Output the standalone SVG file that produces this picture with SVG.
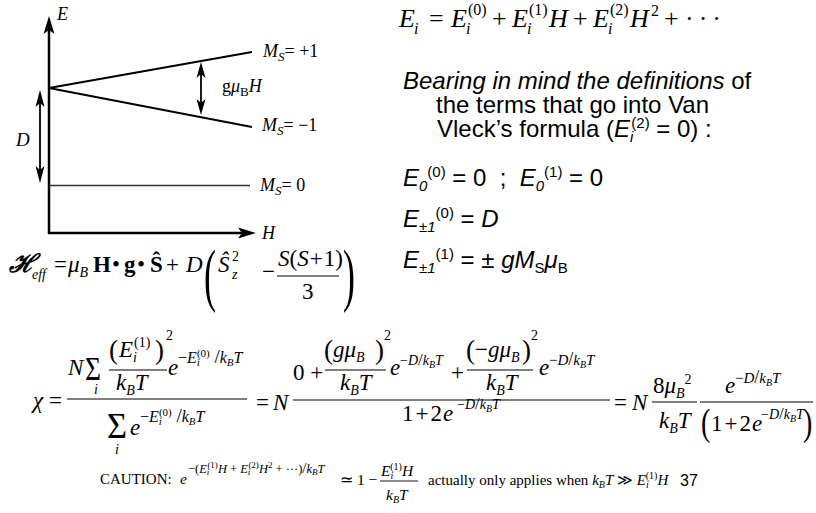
<svg xmlns="http://www.w3.org/2000/svg" width="816" height="513" viewBox="0 0 816 513">
<style>
 text { fill:#000; }
 .t { font-family: "Liberation Serif","Times New Roman",serif; }
 .a { font-family: "Liberation Sans",Arial,sans-serif; }
 .i { font-style: italic; }
 .n { font-style: normal; }
 .b { font-weight: bold; }
 .ax { stroke:#000; stroke-width:2.5; fill:none; }
 .ln { stroke:#000; stroke-width:1.8; fill:none; }
 .bar { stroke:#000; stroke-width:1.2; }
 .head { fill:#000; stroke:none; }
 .pre { white-space: pre; }
</style>
<rect width="816" height="513" fill="#fff"/>

<!-- Energy level diagram -->
<g id="diagram">
  <g id="axes">
    <line class="ax" x1="49" y1="234" x2="49" y2="28"/>
    <path class="head" d="M49,16 L54.5,34 L49,30 L43.5,34 Z"/>
    <line class="ax" x1="48" y1="233" x2="244" y2="233"/>
    <path class="head" d="M256,233 L238,227.5 L242,233 L238,238.5 Z"/>
    <text class="t i" x="57" y="20" font-size="18">E</text>
    <text class="t i" x="262" y="239" font-size="18">H</text>
  </g>
  <g id="levels">
    <line class="ln" x1="49" y1="88" x2="252" y2="52"/>
    <line class="ln" x1="49" y1="88" x2="252" y2="127"/>
    <line x1="49" y1="185.5" x2="250" y2="185.5" stroke="#333" stroke-width="1.4"/>
    <text class="t i" x="263" y="57" font-size="18">M<tspan font-size="13" dy="4">S</tspan><tspan class="n" dy="-4">= +1</tspan></text>
    <text class="t i" x="262" y="131" font-size="18">M<tspan font-size="13" dy="4">S</tspan><tspan class="n" dy="-4">= −1</tspan></text>
    <text class="t i" x="260" y="191" font-size="18">M<tspan font-size="13" dy="4">S</tspan><tspan class="n" dy="-4">= 0</tspan></text>
  </g>
  <g id="connectors">
    <line class="ln" x1="40" y1="100" x2="40" y2="173" stroke-width="2.2"/>
    <path class="head" d="M40,90 L44.5,107 L40,103 L35.5,107 Z"/>
    <path class="head" d="M40,183 L44.5,166 L40,170 L35.5,166 Z"/>
    <line class="ln" x1="201" y1="72" x2="201" y2="105" stroke-width="2.2"/>
    <path class="head" d="M201,62 L205.5,78 L201,74 L196.5,78 Z"/>
    <path class="head" d="M201,115 L205.5,99 L201,103 L196.5,99 Z"/>
    <text class="t i" x="16" y="146" font-size="19">D</text>
    <text class="t" x="222" y="92" font-size="18">g<tspan class="i">μ</tspan><tspan font-size="13" dy="4">B</tspan><tspan class="i" dy="-4">H</tspan></text>
  </g>
</g>

<!-- Right column: perturbation expansion -->
<g id="expansion" class="t" font-size="26">
  <text class="i" x="399" y="27">E</text><text class="i" x="414" y="34" font-size="16">i</text>
  <text x="429" y="27">=</text>
  <text class="i" x="451" y="27">E</text><text class="i" x="466" y="34" font-size="16">i</text><text x="468" y="15" font-size="16">(0)</text>
  <text x="492" y="27">+</text>
  <text class="i" x="512" y="27">E</text><text class="i" x="527" y="34" font-size="16">i</text><text x="529" y="15" font-size="16">(1)</text>
  <text class="i" x="549" y="27">H</text>
  <text x="573" y="27">+</text>
  <text class="i" x="593" y="27">E</text><text class="i" x="608" y="34" font-size="16">i</text><text x="610" y="15" font-size="16">(2)</text>
  <text class="i" x="630" y="27">H</text><text x="651" y="16" font-size="16">2</text>
  <text x="664" y="27">+</text>
  <text x="685" y="27" letter-spacing="5">···</text>
</g>
<g id="definitions" class="a" font-size="24">
  <text x="403" y="89"><tspan class="i">Bearing in mind the definitions</tspan> of</text>
  <text x="436" y="113">the terms that go into Van</text>
  <text x="437" y="137">Vleck’s formula (<tspan class="i">E</tspan><tspan class="i" font-size="15" dy="5">i</tspan><tspan font-size="15" dx="-2" dy="-14">(2)</tspan><tspan dy="9"> = 0) :</tspan></text>
  <text class="pre" x="403" y="186"><tspan class="i">E</tspan><tspan class="i" font-size="15" dy="5">0</tspan><tspan font-size="15" dy="-14">(0)</tspan><tspan dy="9"> = 0  ;  </tspan><tspan class="i">E</tspan><tspan class="i" font-size="15" dy="5">0</tspan><tspan font-size="15" dy="-14">(1)</tspan><tspan dy="9"> = 0</tspan></text>
  <text x="403" y="227"><tspan class="i">E</tspan><tspan class="i" font-size="15" dy="5">±1</tspan><tspan font-size="15" dy="-14">(0)</tspan><tspan dy="9"> = </tspan><tspan class="i">D</tspan></text>
  <text x="403" y="268"><tspan class="i">E</tspan><tspan class="i" font-size="15" dy="5">±1</tspan><tspan font-size="15" dy="-14">(1)</tspan><tspan dy="9"> = ± </tspan><tspan class="i">gM</tspan><tspan font-size="15" dy="5">S</tspan><tspan class="i" dy="-5">μ</tspan><tspan font-size="15" dy="5">B</tspan></text>
</g>

<!-- Hamiltonian -->
<g id="hamiltonian" class="t" font-size="23">
  <text x="9" y="272" font-size="25" font-family="DejaVu Serif, serif" font-weight="bold" font-style="italic">ℋ</text>
  <text class="i" x="32" y="279" font-size="14">eff</text>
  <text x="54" y="272">=</text>
  <text class="i" x="68" y="272">μ<tspan font-size="14" dy="5">B</tspan></text>
  <text class="b" x="93" y="272">H</text>
  <text x="112" y="272">•</text>
  <text class="b" x="124" y="272">g</text>
  <text x="137" y="272">•</text>
  <text class="b" x="150" y="272">Ŝ</text>
  <text x="166" y="272">+</text>
  <text class="i" x="186" y="272">D</text>
  <text transform="translate(204,298) scale(1,1.95)" font-size="36">(</text>
  <text class="i" x="218" y="272">Ŝ</text>
  <text class="i" x="232" y="279" font-size="14">z</text>
  <text x="232" y="261" font-size="14">2</text>
  <text x="262" y="279">−</text>
  <text class="i" x="278" y="266">S<tspan class="n">(</tspan>S<tspan class="n" dx="1">+</tspan><tspan class="n" dx="1">1)</tspan></text>
  <line class="bar" x1="277" y1="276" x2="339" y2="276"/>
  <text x="302" y="299">3</text>
  <text transform="translate(343,298) scale(1,1.95)" font-size="36">)</text>
</g>

<!-- Susceptibility -->
<g id="susceptibility" class="t" font-size="23">
  <text class="i" x="33" y="408">χ</text>
  <text x="49" y="408">=</text>
  <line class="bar" x1="67" y1="399" x2="247" y2="399"/>
  <!-- numerator 1 -->
  <text class="i" x="68" y="375">N</text>
  <text x="85" y="380" font-size="34" textLength="16" lengthAdjust="spacingAndGlyphs">Σ</text>
  <text class="i" x="94" y="394" font-size="14">i</text>
  <text x="109" y="359" font-size="27">(</text>
  <text class="i" x="119" y="357">E</text>
  <text class="i" x="133" y="362" font-size="14">i</text>
  <text x="134" y="347" font-size="14">(1)</text>
  <text x="155" y="359" font-size="27">)</text>
  <text x="166" y="340" font-size="14">2</text>
  <line class="bar" x1="109" y1="370" x2="167" y2="370"/>
  <text class="i" x="116" y="390">k<tspan font-size="14" dy="5">B</tspan><tspan dy="-5">T</tspan></text>
  <text class="i" x="168" y="375">e</text>
  <text class="i" x="178" y="363" font-size="16"><tspan class="n">−</tspan>E<tspan font-size="11" dy="3">i</tspan><tspan class="n" font-size="11" dx="-3" dy="-9">(0)</tspan><tspan class="n" font-size="19" dy="6"> /</tspan>k<tspan font-size="11" dy="3">B</tspan><tspan dy="-3">T</tspan></text>
  <!-- denominator 1 -->
  <text x="107" y="438" font-size="36" textLength="20" lengthAdjust="spacingAndGlyphs">Σ</text>
  <text class="i" x="115" y="454" font-size="14">i</text>
  <text class="i" x="130" y="435">e</text>
  <text class="i" x="140" y="422" font-size="16"><tspan class="n">−</tspan>E<tspan font-size="11" dy="3">i</tspan><tspan class="n" font-size="11" dx="-3" dy="-9">(0)</tspan><tspan class="n" font-size="19" dy="6"> /</tspan>k<tspan font-size="11" dy="3">B</tspan><tspan dy="-3">T</tspan></text>

  <text x="256" y="410">=</text>
  <text class="i" x="273" y="410">N</text>
  <line class="bar" x1="293" y1="400" x2="610" y2="400"/>
  <!-- numerator 2 -->
  <text x="293" y="380">0 +</text>
  <text x="324" y="359" font-size="27">(</text>
  <text class="i" x="333" y="357">gμ<tspan font-size="14" dy="5">B</tspan></text>
  <text x="375" y="359" font-size="27">)</text>
  <text x="384" y="340" font-size="14">2</text>
  <line class="bar" x1="325" y1="370" x2="386" y2="370"/>
  <text class="i" x="340" y="390">k<tspan font-size="14" dy="5">B</tspan><tspan dy="-5">T</tspan></text>
  <text class="i" x="390" y="375">e</text>
  <text class="i" x="400" y="365" font-size="14"><tspan class="n">−</tspan>D<tspan class="n" font-size="17">/</tspan>k<tspan font-size="10" dy="3">B</tspan><tspan dy="-3">T</tspan></text>
  <text x="451" y="380">+</text>
  <text x="466" y="359" font-size="27">(</text>
  <text class="i" x="475" y="357"><tspan class="n">−</tspan>gμ<tspan font-size="14" dy="5">B</tspan></text>
  <text x="522" y="359" font-size="27">)</text>
  <text x="531" y="340" font-size="14">2</text>
  <line class="bar" x1="467" y1="370" x2="533" y2="370"/>
  <text class="i" x="486" y="390">k<tspan font-size="14" dy="5">B</tspan><tspan dy="-5">T</tspan></text>
  <text class="i" x="539" y="375">e</text>
  <text class="i" x="549" y="365" font-size="15"><tspan class="n">−</tspan>D<tspan class="n" font-size="18">/</tspan>k<tspan font-size="10" dy="3">B</tspan><tspan dy="-3">T</tspan></text>
  <!-- denominator 2 -->
  <text x="402" y="421">1<tspan dx="2">+</tspan><tspan dx="2">2</tspan><tspan class="i" dx="1">e</tspan></text>
  <text class="i" x="457" y="409" font-size="14"><tspan class="n">−</tspan>D<tspan class="n" font-size="17">/</tspan>k<tspan font-size="10" dy="3">B</tspan><tspan dy="-3">T</tspan></text>

  <text x="614" y="410">=</text>
  <text class="i" x="632" y="410">N</text>
  <text x="653" y="393">8<tspan class="i">μ</tspan><tspan class="i" font-size="14" dy="5">B</tspan><tspan font-size="14" dy="-14">2</tspan></text>
  <line class="bar" x1="652" y1="402" x2="697" y2="402"/>
  <text class="i" x="659" y="428">k<tspan font-size="14" dy="5">B</tspan><tspan dy="-5">T</tspan></text>
  <line class="bar" x1="700" y1="402" x2="813" y2="402"/>
  <text class="i" x="725" y="393">e</text>
  <text class="i" x="735" y="383" font-size="15"><tspan class="n">−</tspan>D<tspan class="n" font-size="18">/</tspan>k<tspan font-size="10" dy="3">B</tspan><tspan dy="-3">T</tspan></text>
  <text transform="translate(701,435) scale(1,1.35)" font-size="28">(</text>
  <text x="711" y="431">1<tspan dx="2">+</tspan><tspan dx="2">2</tspan><tspan class="i" dx="1">e</tspan></text>
  <text class="i" x="761" y="419" font-size="14"><tspan class="n">−</tspan>D<tspan class="n" font-size="17">/</tspan>k<tspan font-size="10" dy="3">B</tspan><tspan dy="-3">T</tspan></text>
  <text transform="translate(803,435) scale(1,1.35)" font-size="28">)</text>
</g>

<!-- Caution -->
<g id="caution" class="t" font-size="15">
  <text x="100" y="484">CAUTION:</text>
  <text class="i" x="180" y="484" font-size="15.5">e</text>
  <text class="i" x="188" y="473" font-size="12.5"><tspan class="n">−(</tspan>E<tspan font-size="9" dy="2">i</tspan><tspan class="n" font-size="9" dx="-2" dy="-7">(1)</tspan><tspan dy="5">H</tspan><tspan class="n"> + </tspan>E<tspan font-size="9" dy="2">i</tspan><tspan class="n" font-size="9" dx="-2" dy="-7">(2)</tspan><tspan dy="5">H</tspan><tspan class="n" font-size="9" dy="-5">2</tspan><tspan class="n" dy="5"> + ···)</tspan><tspan class="n" font-size="15">/</tspan>k<tspan font-size="9" dy="2">B</tspan><tspan dy="-2">T</tspan></text>
  <text x="340" y="485" font-size="15.5">≃ 1 −</text>
  <text class="i" x="381" y="476" font-size="15.5">E<tspan font-size="10" dy="3">i</tspan><tspan class="n" font-size="10" dx="-3" dy="-9">(1)</tspan><tspan dy="6">H</tspan></text>
  <line x1="380" y1="481" x2="418" y2="481" stroke="#000" stroke-width="0.9"/>
  <text class="i" x="386" y="500" font-size="15.5">k<tspan font-size="10" dy="3">B</tspan><tspan dy="-3">T</tspan></text>
  <text x="428" y="485">actually only applies when <tspan class="i">k</tspan><tspan class="i" font-size="10" dy="3">B</tspan><tspan class="i" dy="-3">T</tspan> ≫ <tspan class="i">E</tspan><tspan class="i" font-size="10" dy="3">i</tspan><tspan font-size="10" dx="-3" dy="-9">(1)</tspan><tspan class="i" dy="6">H</tspan></text>
  <text class="a" x="680" y="486" font-size="16">37</text>
</g>
</svg>
